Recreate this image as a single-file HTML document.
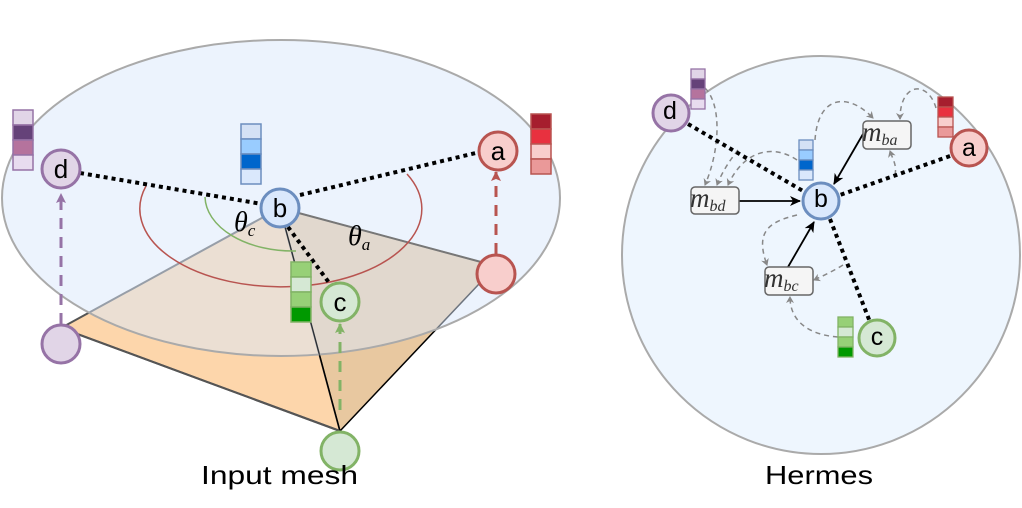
<!DOCTYPE html>
<html><head><meta charset="utf-8"><style>html,body{margin:0;padding:0;background:#fff}svg{display:block}</style></head>
<body>
<svg width="1022" height="508" viewBox="0 0 1022 508" xmlns="http://www.w3.org/2000/svg" font-family="Liberation Sans, sans-serif">
<defs>
<marker id="ga" markerWidth="8" markerHeight="8" refX="6" refY="4" orient="auto" markerUnits="userSpaceOnUse"><path d="M0,0 L7,4 L0,8 L2,4 Z" fill="#888"/></marker>
<marker id="ba" markerWidth="12" markerHeight="12" refX="10" refY="6" orient="auto" markerUnits="userSpaceOnUse"><path d="M0,1 L11,6 L0,11 L3,6 Z" fill="#000"/></marker>
<marker id="pa" markerWidth="12" markerHeight="12" refX="9" refY="6" orient="auto" markerUnits="userSpaceOnUse"><path d="M0,1 L10,6 L0,11 L2,6 Z" fill="#9673a6"/></marker>
<marker id="ra" markerWidth="12" markerHeight="12" refX="9" refY="6" orient="auto" markerUnits="userSpaceOnUse"><path d="M0,1 L10,6 L0,11 L2,6 Z" fill="#b85450"/></marker>
<marker id="gra" markerWidth="12" markerHeight="12" refX="9" refY="6" orient="auto" markerUnits="userSpaceOnUse"><path d="M0,1 L10,6 L0,11 L2,6 Z" fill="#82b366"/></marker>
</defs>

<!-- LEFT: mesh -->
<polygon points="61,328 280,208 340,431" fill="#fdd6ab" stroke="#555" stroke-width="2"/>
<polygon points="280,208 496,266 340,431" fill="#e8c8a0" stroke="#000" stroke-width="1.5"/>
<line x1="61" y1="328" x2="340" y2="431" stroke="#555" stroke-width="2"/>
<ellipse cx="281" cy="198" rx="279" ry="158" fill="#dae8fc" fill-opacity="0.5" stroke="#aaa" stroke-width="2"/>
<line x1="280" y1="208" x2="496" y2="266" stroke="#777" stroke-width="2"/>
<line x1="280" y1="208" x2="340" y2="431" stroke="#000" stroke-width="1.2" opacity="0.6"/>

<path d="M146,186 A141 78 0 1 0 407,174" fill="none" stroke="#b85450" stroke-width="1.5"/>
<path d="M205,197 A88 55 0 0 0 296,251" fill="none" stroke="#82b366" stroke-width="1.5"/>

<g stroke="#000" stroke-width="4" stroke-dasharray="4 4" fill="none">
<line x1="80" y1="173" x2="262" y2="204"/>
<line x1="300" y1="195" x2="480" y2="152"/>
<line x1="288" y1="227" x2="330" y2="284"/>
</g>

<g stroke-width="3" stroke-dasharray="11 8" fill="none">
<line x1="61" y1="324" x2="61" y2="194" stroke="#9673a6" marker-end="url(#pa)"/>
<line x1="496" y1="254" x2="496" y2="172" stroke="#b85450" marker-end="url(#ra)"/>
<line x1="340" y1="410" x2="340" y2="324" stroke="#82b366" marker-end="url(#gra)"/>
</g>

<g stroke-width="3">
<circle cx="61" cy="169" r="19" fill="#e1d5e7" stroke="#9673a6"/>
<circle cx="280" cy="208" r="19" fill="#dae8fc" stroke="#6c8ebf"/>
<circle cx="498" cy="151" r="19" fill="#f8cecc" stroke="#b85450"/>
<circle cx="340" cy="302" r="19" fill="#d5e8d4" stroke="#82b366"/>
<circle cx="496" cy="274" r="19" fill="#f8cecc" stroke="#b85450"/>
<circle cx="61" cy="344" r="19" fill="#e1d5e7" stroke="#9673a6"/>
<circle cx="340" cy="451" r="19" fill="#d5e8d4" stroke="#82b366"/>
</g>
<g font-size="26" text-anchor="middle" fill="#000">
<text x="61" y="178">d</text>
<text x="280" y="217">b</text>
<text x="498" y="160">a</text>
<text x="340" y="311">c</text>
</g>
<g font-family="Liberation Serif, serif" font-style="italic" font-size="28">
<text x="234" y="231">θ<tspan font-size="17" dy="5">c</tspan></text>
<text x="348" y="245">θ<tspan font-size="17" dy="5">a</tspan></text>
</g>

<!-- left bars -->
<g stroke-width="1.5">
<g stroke="#9673a6"><rect x="13" y="110" width="20" height="15" fill="#e1d5e7"/><rect x="13" y="125" width="20" height="15" fill="#654279"/><rect x="13" y="140" width="20" height="15" fill="#b5739d"/><rect x="13" y="155" width="20" height="15" fill="#e8dcef"/></g>
<g stroke="#6c8ebf"><rect x="241" y="124" width="20" height="15" fill="#d4e1f5"/><rect x="241" y="139" width="20" height="15" fill="#99ccff"/><rect x="241" y="154" width="20" height="15" fill="#0066cc"/><rect x="241" y="169" width="20" height="15" fill="#dae8fc"/></g>
<g stroke="#b85450"><rect x="531" y="114" width="20" height="15" fill="#a61e2e"/><rect x="531" y="129" width="20" height="15" fill="#e8313f"/><rect x="531" y="144" width="20" height="15" fill="#f8cecc"/><rect x="531" y="159" width="20" height="15" fill="#ea9999"/></g>
<g stroke="#82b366"><rect x="291" y="262" width="20" height="15" fill="#97d077"/><rect x="291" y="277" width="20" height="15" fill="#d5e8d4"/><rect x="291" y="292" width="20" height="15" fill="#97d077"/><rect x="291" y="307" width="20" height="15" fill="#009900"/></g>
</g>

<!-- RIGHT: Hermes -->
<circle cx="821" cy="255" r="199" fill="#eef6fe" stroke="#aaa" stroke-width="2"/>

<g stroke="#888" stroke-width="1.5" stroke-dasharray="5 4" fill="none" marker-end="url(#ga)">
<path d="M705,88 C722,105 720,150 705,185"/>
<path d="M738,150 C730,160 722,172 717,185"/>
<path d="M797,160 C775,145 745,148 728,185"/>
<path d="M815,140 C818,95 848,92 873,118"/>
<path d="M936,108 C928,80 900,82 900,119"/>
<path d="M895,175 C897,165 893,160 890,151"/>
<path d="M797,215 C768,222 755,232 767,265"/>
<path d="M843,265 C835,270 825,275 814,280"/>
<path d="M838,337 C810,335 790,322 790,297"/>
</g>

<g stroke="#000" stroke-width="4" stroke-dasharray="4 4" fill="none">
<line x1="688" y1="124" x2="803" y2="191"/>
<line x1="950" y1="156" x2="840" y2="195"/>
<line x1="830" y1="219" x2="870" y2="322"/>
</g>

<g stroke="#000" stroke-width="1.8" fill="none" marker-end="url(#ba)">
<line x1="739" y1="201" x2="800" y2="201"/>
<line x1="863" y1="134" x2="834" y2="184"/>
<line x1="788" y1="267" x2="814" y2="222"/>
</g>

<g fill="#f5f5f5" stroke="#666" stroke-width="1.5">
<rect x="691" y="187" width="48" height="27" rx="4"/>
<rect x="863" y="121" width="48" height="28" rx="4"/>
<rect x="765" y="267" width="48" height="28" rx="4"/>
</g>
<g font-family="Liberation Serif, serif" font-style="italic" font-size="27" fill="#333">
<text x="690" y="207">m<tspan font-size="16" dy="4">bd</tspan></text>
<text x="862" y="141">m<tspan font-size="16" dy="4">ba</tspan></text>
<text x="764" y="287">m<tspan font-size="16" dy="4">bc</tspan></text>
</g>

<g stroke-width="3">
<circle cx="671" cy="113" r="18" fill="#e1d5e7" stroke="#9673a6"/>
<circle cx="821" cy="201" r="18" fill="#dae8fc" stroke="#6c8ebf"/>
<circle cx="969" cy="148" r="18" fill="#f8cecc" stroke="#b85450"/>
<circle cx="877" cy="338" r="18" fill="#d5e8d4" stroke="#82b366"/>
</g>
<g font-size="25" text-anchor="middle" fill="#000">
<text x="670" y="119">d</text>
<text x="821" y="207">b</text>
<text x="969" y="156">a</text>
<text x="877" y="345">c</text>
</g>

<g stroke-width="1.3">
<g stroke="#9673a6"><rect x="691" y="69" width="14" height="10" fill="#e1d5e7"/><rect x="691" y="79" width="14" height="10" fill="#654279"/><rect x="691" y="89" width="14" height="10" fill="#b5739d"/><rect x="691" y="99" width="14" height="10" fill="#e8dcef"/></g>
<g stroke="#6c8ebf"><rect x="799" y="140" width="14" height="10" fill="#d4e1f5"/><rect x="799" y="150" width="14" height="10" fill="#99ccff"/><rect x="799" y="160" width="14" height="10" fill="#0066cc"/><rect x="799" y="170" width="14" height="10" fill="#dae8fc"/></g>
<g stroke="#b85450"><rect x="938" y="97" width="15" height="10" fill="#a61e2e"/><rect x="938" y="107" width="15" height="10" fill="#e8313f"/><rect x="938" y="117" width="15" height="10" fill="#f8cecc"/><rect x="938" y="127" width="15" height="10" fill="#ea9999"/></g>
<g stroke="#82b366"><rect x="838" y="317" width="15" height="10" fill="#97d077"/><rect x="838" y="327" width="15" height="10" fill="#d5e8d4"/><rect x="838" y="337" width="15" height="10" fill="#97d077"/><rect x="838" y="347" width="15" height="10" fill="#009900"/></g>
</g>

<text x="201" y="484" font-size="26" textLength="157" lengthAdjust="spacingAndGlyphs" fill="#000">Input mesh</text>
<text x="765" y="484" font-size="26" textLength="108" lengthAdjust="spacingAndGlyphs" fill="#000">Hermes</text>
</svg>
</body></html>
